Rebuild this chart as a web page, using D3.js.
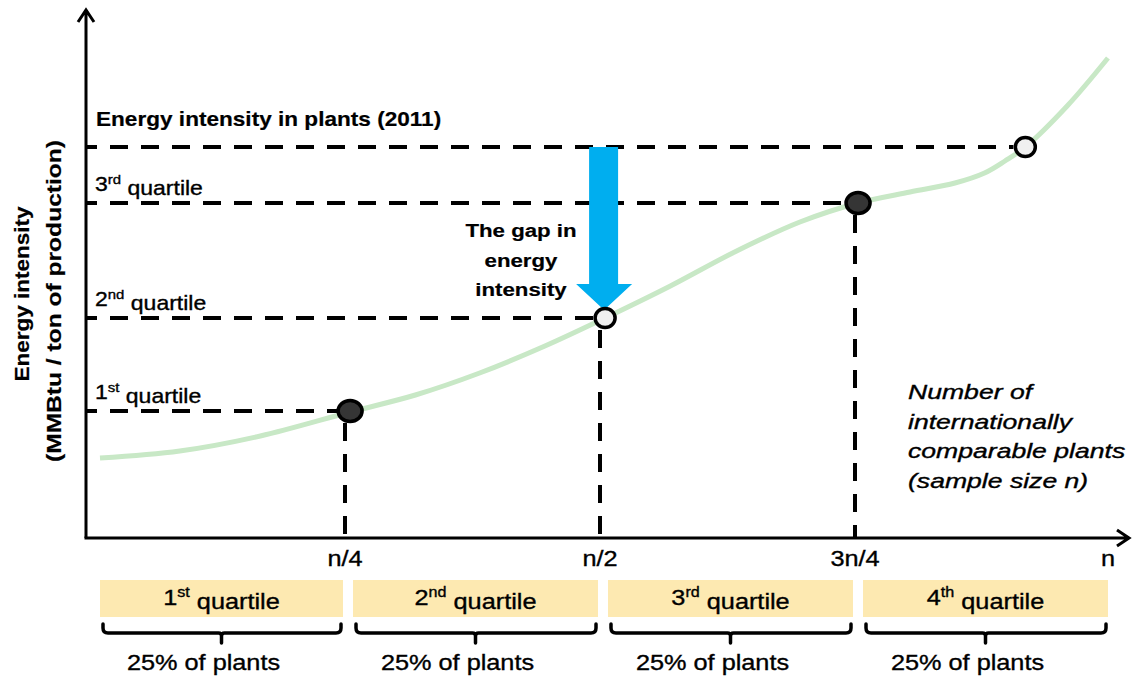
<!DOCTYPE html>
<html>
<head>
<meta charset="utf-8">
<script src="https://cdn.jsdelivr.net/npm/d3@7"></script>
<style>
  html, body { margin: 0; padding: 0; background: #ffffff; }
  svg { display: block; font-family: "Liberation Sans", Arial, sans-serif; }
</style>
</head>
<body>
<svg id="chart" width="1133" height="677"></svg>
<script>
// ---------- data ----------
// sample position as a fraction of n, and energy intensity (arbitrary units)
const curveX = [0.0098, 0.088, 0.167, 0.255, 0.319, 0.382, 0.446, 0.505, 0.569, 0.632, 0.696, 0.753, 0.804, 0.848, 0.877, 0.897, 0.917, 0.958, 0.998];
const curveY = [16.0, 17.4, 20.4, 25.2, 28.6, 33.0, 38.4, 44.0, 50.4, 57.2, 63.2, 67.0, 69.2, 71.0, 73.0, 75.4, 78.2, 86.4, 96.0];

const pointX = [0.255, 0.505, 0.753, 0.917];
const pointY = [25.4, 44.0, 67.0, 78.2];
const pointKind = ["quartile", "median", "quartile", "best"];

const quartileBounds = [0, 0.25, 0.5, 0.75, 1];
const tickPos = [0.25, 0.5, 0.75, 1];
const tickLabels = ["n/4", "n/2", "3n/4", "n"];

const ordNum = ["1", "2", "3", "4"];
const ordSup = ["st", "nd", "rd", "th"];
const shareLabel = "25% of plants";

const yTitle = ["Energy intensity", "(MMBtu / ton of production)"];
const topTitle = "Energy intensity in plants (2011)";
const gapText = ["The gap in", "energy", "intensity"];
const xNote = ["Number of", "internationally", "comparable plants", "(sample size n)"];

// ---------- layout ----------
const svg = d3.select("#chart");
const x = d3.scaleLinear().domain([0, 1]).range([90, 1110]);
const y = d3.scaleLinear().domain([0, 100]).range([538, 38]);
const axisX = 86, axisY = 538;
const SX = 1.15;

const dashStyle = sel => sel.attr("stroke", "#000").attr("stroke-width", 4)
  .attr("stroke-dasharray", "18,13").attr("fill", "none");

// horizontal dashed level lines (from y axis to point)
svg.append("g").selectAll("line").data(pointX).join("line")
  .attr("x1", axisX + 1).attr("x2", (d) => x(d) - 12)
  .attr("y1", (d, i) => y(pointY[i])).attr("y2", (d, i) => y(pointY[i]))
  .call(dashStyle).attr("stroke-dashoffset", 8);

// vertical dashed lines for quartiles
svg.append("g").selectAll("line").data([0, 1, 2]).join("line")
  .attr("x1", i => x(tickPos[i])).attr("x2", i => x(tickPos[i]))
  .attr("y1", i => y(pointY[i]) + 12).attr("y2", axisY)
  .call(dashStyle).attr("stroke-dashoffset", 0);

// distribution curve
const line = d3.line().x((d, i) => x(curveX[i])).y((d, i) => y(curveY[i])).curve(d3.curveCatmullRom.alpha(0.5));
svg.append("path").datum(curveY).attr("d", line)
  .attr("fill", "none").attr("stroke", "#c8e8c6").attr("stroke-width", 5).attr("stroke-linecap", "butt");

// axes
svg.append("path")
  .attr("d", `M${axisX},${axisY} L${axisX},10 M${axisX - 8},22 L${axisX},10 L${axisX + 8},22`)
  .attr("fill", "none").attr("stroke", "#000").attr("stroke-width", 3).attr("stroke-linejoin", "miter");
svg.append("path")
  .attr("d", `M${axisX - 1.5},${axisY} L1129,${axisY} M1117,${axisY - 8} L1129,${axisY} L1117,${axisY + 8}`)
  .attr("fill", "none").attr("stroke", "#000").attr("stroke-width", 3);

// blue gap arrow (from best-practice level down to median)
const ax = x(pointX[1]) - 1, topV = y(pointY[3]), tipV = y(pointY[1]) - 8;
svg.append("path")
  .attr("d", `M${ax - 15},${topV} L${ax + 14},${topV} L${ax + 14},${tipV - 26} L${ax + 28},${tipV - 26} L${ax},${tipV} L${ax - 28},${tipV - 26} L${ax - 15},${tipV - 26} Z`)
  .attr("fill", "#00aeef");

// points
svg.append("g").selectAll("ellipse").data(pointX).join("ellipse")
  .attr("cx", d => x(d)).attr("cy", (d, i) => y(pointY[i]))
  .attr("rx", (d, i) => pointKind[i] === "quartile" ? 12 : 10)
  .attr("ry", (d, i) => pointKind[i] === "quartile" ? 10.5 : 9.5)
  .attr("fill", (d, i) => pointKind[i] === "quartile" ? "#353535" : "#f0f0f0")
  .attr("stroke", "#000").attr("stroke-width", 3.5);

// helper for horizontally stretched text
function addText(parent, px, py, size, sx, opts = {}) {
  return parent.append("text")
    .attr("transform", `translate(${px},${py}) scale(${sx},1)`)
    .attr("font-size", size)
    .attr("font-weight", opts.bold ? "bold" : "normal")
    .attr("font-style", opts.italic ? "italic" : "normal")
    .attr("text-anchor", opts.anchor || "start")
    .attr("fill", "#000")
    .attr("stroke", "#000").attr("stroke-width", opts.bold ? 0.2 : 0.35);
}
function ordinal(t, i, supSize) {
  t.append("tspan").text(ordNum[i]);
  t.append("tspan").attr("font-size", supSize).attr("dy", "-0.55em").text(ordSup[i]);
  t.append("tspan").attr("dy", "0.55em").text(" quartile");
}

// titles
addText(svg, 96, 126, 20, 1.13, { bold: true }).text(topTitle);

// level labels (1st, 2nd, 3rd quartile on y axis)
[0, 1, 2].forEach(i => {
  const t = addText(svg, 95, y(pointY[i]) - 12, 20, SX);
  ordinal(t, i, 13);
});

// gap text
gapText.forEach((s, i) => {
  addText(svg, 521, 237 + i * 29.5, 19, 1.17, { bold: true, anchor: "middle" }).text(s);
});

// y axis title
yTitle.forEach((s, i) => {
  svg.append("text")
    .attr("transform", `translate(${i === 0 ? 29 : 61},${i === 0 ? 294 : 301}) rotate(-90)`)
    .attr("text-anchor", "middle").attr("font-weight", "bold").attr("font-size", 21)
    .attr("stroke", "#000").attr("stroke-width", 0.2)
    .attr("textLength", i === 0 ? 175 : 322).attr("lengthAdjust", "spacingAndGlyphs")
    .text(s);
});

// x ticks
tickPos.forEach((p, i) => {
  addText(svg, x(p) - (i === 3 ? 2 : 0), 566, 22, SX, { anchor: "middle" }).text(tickLabels[i]);
});

// x note
xNote.forEach((s, i) => {
  addText(svg, 908, 399 + i * 29.7, 20, 1.33, { italic: true }).text(s);
});

// quartile boxes, braces and share labels
const boxes = d3.range(4);
const bx0 = i => x(quartileBounds[i]) + (i === 0 ? 10 : 8);
const bx1 = i => x(quartileBounds[i + 1]) - 2;
svg.append("g").selectAll("rect").data(boxes).join("rect")
  .attr("x", bx0).attr("width", i => bx1(i) - bx0(i))
  .attr("y", 580).attr("height", 37)
  .attr("fill", "#fde9b1");
boxes.forEach(i => {
  const cx = (bx0(i) + bx1(i)) / 2;
  const t = addText(svg, cx, 605, 22, SX, { anchor: "middle" });
  ordinal(t, i, 14);
  const l = bx0(i) + 3, r = bx1(i) - 2, top = 624, mid = 633, bot = 643, rr = 5;
  svg.append("path")
    .attr("d", `M${l},${top} L${l},${mid - rr} Q${l},${mid} ${l + rr},${mid} L${cx - 3},${mid} Q${cx},${mid} ${cx},${mid + 3} L${cx},${bot} M${cx},${mid + 3} Q${cx},${mid} ${cx + 3},${mid} L${r - rr},${mid} Q${r},${mid} ${r},${mid - rr} L${r},${top}`)
    .attr("fill", "none").attr("stroke", "#000").attr("stroke-width", 3.5).attr("stroke-linecap", "round");
  addText(svg, cx - 18, 670, 22, SX, { anchor: "middle" }).text(shareLabel);
});
</script>
</body>
</html>
